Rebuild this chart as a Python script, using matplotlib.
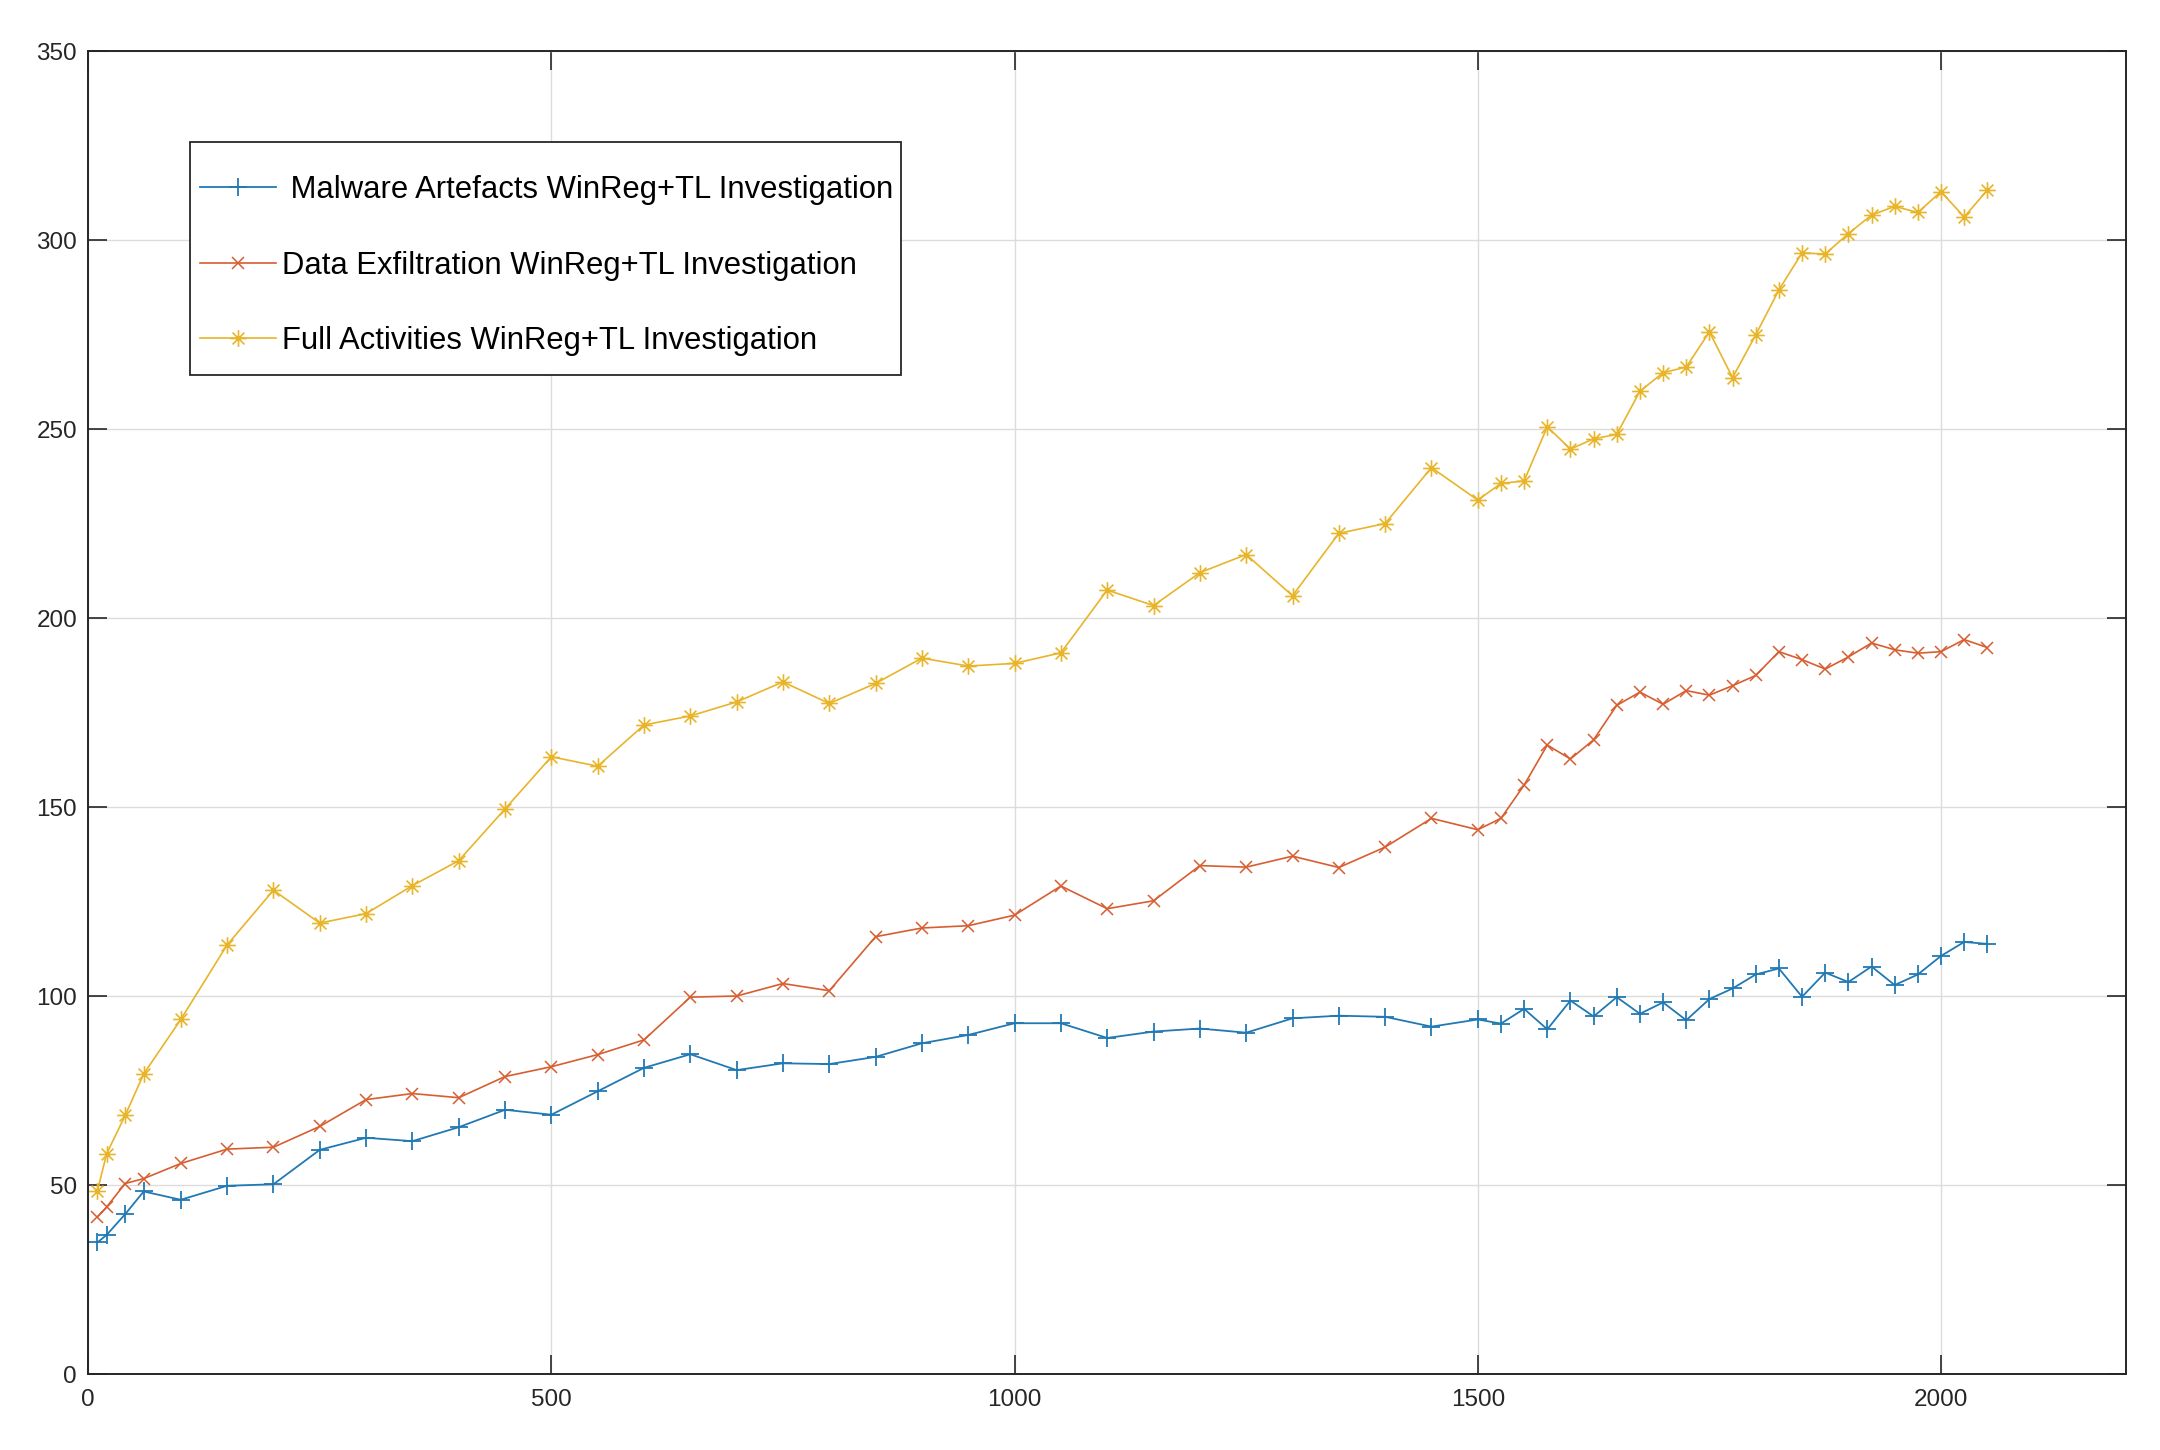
import matplotlib
matplotlib.use("Agg")
import matplotlib.pyplot as plt
from matplotlib.path import Path
from matplotlib.patches import Rectangle

# sample sizes on the x axis
x_vals = [10, 20, 40, 60, 100, 150, 200, 250, 300, 350, 400, 450, 500, 550,
          600, 650, 700, 750, 800, 850, 900, 950, 1000, 1050, 1100, 1150, 1200,
          1250, 1300, 1350, 1400, 1450, 1500, 1525, 1550, 1575, 1600, 1625, 1650,
          1675, 1700, 1725, 1750, 1775, 1800, 1825, 1850, 1875, 1900, 1925, 1950,
          1975, 2000, 2025, 2050]

malware = [34.8, 36.8, 42.3, 48.3, 46.1, 49.8, 50.2, 59.3, 62.5, 61.6, 65.3, 69.9,
           68.6, 74.8, 81.0, 84.6, 80.4, 82.2, 82.0, 83.9, 87.5, 89.7, 92.8, 92.8,
           88.9, 90.6, 91.4, 90.3, 94.1, 94.8, 94.5, 91.9, 93.8, 92.7, 96.6, 91.2,
           98.8, 94.6, 99.7, 95.3, 98.3, 93.6, 99.2, 102.0, 105.7, 107.3, 99.8,
           106.2, 103.7, 107.8, 102.9, 105.7, 110.6, 114.3, 113.8]

exfil = [41.5, 44.2, 50.4, 51.7, 55.7, 59.5, 60.0, 65.5, 72.6, 74.2, 73.1, 78.7,
         81.3, 84.5, 88.4, 99.7, 100.0, 103.3, 101.4, 115.7, 118.0, 118.6, 121.4,
         129.1, 123.1, 125.2, 134.5, 134.1, 137.0, 134.0, 139.4, 147.0, 144.0,
         147.0, 155.8, 166.4, 162.7, 167.8, 176.9, 180.4, 177.2, 180.8, 179.6,
         182.1, 184.8, 191.1, 189.0, 186.5, 189.7, 193.4, 191.6, 190.7, 191.1,
         194.3, 192.2]

full = [48.4, 58.3, 68.4, 79.4, 93.8, 113.5, 128.0, 119.3, 121.8, 129.2, 135.8,
        149.5, 163.3, 160.8, 171.7, 174.1, 177.8, 183.1, 177.4, 182.7, 189.4,
        187.3, 188.0, 190.8, 207.4, 203.3, 212.0, 216.8, 205.9, 222.4, 225.0,
        239.8, 231.2, 235.6, 236.3, 250.6, 244.7, 247.4, 248.6, 260.0, 264.9,
        266.4, 275.7, 263.6, 274.9, 286.8, 296.6, 296.3, 301.7, 306.6, 308.9,
        307.3, 312.8, 306.1, 313.2]

labels = [' Malware Artefacts WinReg+TL Investigation',
          'Data Exfiltration WinReg+TL Investigation',
          'Full Activities WinReg+TL Investigation']

# MATLAB style asterisk marker (plus + cross)
d = 0.7071
asterisk = Path([(-1, 0), (1, 0), (0, -1), (0, 1), (-d, -d), (d, d), (-d, d), (d, -d)],
                [Path.MOVETO, Path.LINETO] * 4)

plt.rcParams['font.family'] = ['Liberation Sans', 'DejaVu Sans']

fig = plt.figure(figsize=(21.6, 14.5), dpi=100)
ax = fig.add_axes([0.0408, 0.0524, 0.9436, 0.9124])

ax.plot(x_vals, malware, color='#2179b4', marker='+', markersize=13,
        markeredgewidth=1.3, linewidth=1.3, label=labels[0])
ax.plot(x_vals, exfil, color='#d75e30', marker='x', markersize=9,
        markeredgewidth=1.1, linewidth=1.2, label=labels[1])
ax.plot(x_vals, full, color='#e8b42a', marker=asterisk, markersize=12,
        markeredgewidth=1.2, markerfacecolor='none', linewidth=1.2, label=labels[2])

ax.set_xlim(0, 2200)
ax.set_ylim(0, 350)
ax.set_xticks([0, 500, 1000, 1500, 2000])
ax.set_yticks([0, 50, 100, 150, 200, 250, 300, 350])

ax.grid(True, color='#dcdcdc', linewidth=1.0)
ax.set_axisbelow(True)
ax.tick_params(direction='in', length=14, width=1.2, top=True, right=True,
               labelsize=17.5, colors='#262626')
ax.tick_params(axis='x', pad=11)
ax.tick_params(axis='y', pad=8)
for s in ax.spines.values():
    s.set_color('#262626')
    s.set_linewidth(1.4)

# legend box drawn separately so its padding can match the original
ax.add_patch(Rectangle((0.050, 0.7553), 0.3489, 0.176, transform=ax.transAxes,
                       facecolor='white', edgecolor='#262626', linewidth=1.3,
                       zorder=4.9))
ax.legend(loc='upper left', bbox_to_anchor=(0.0518, 0.911), fontsize=22.3,
          frameon=False, borderpad=0.2, labelspacing=1.47, handlelength=2.47,
          handletextpad=0.18, borderaxespad=0)

fig.savefig('out.png', dpi=100, facecolor='white')
